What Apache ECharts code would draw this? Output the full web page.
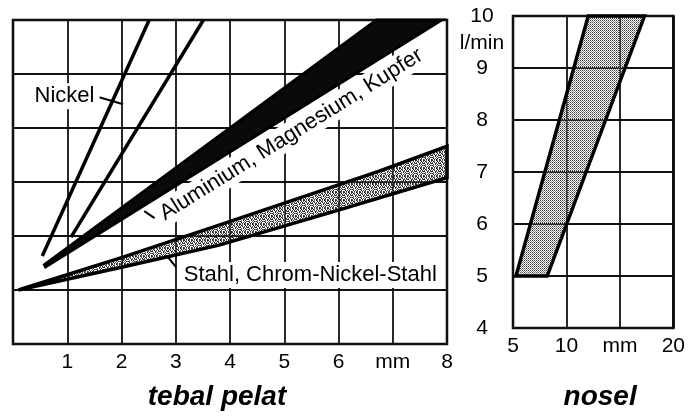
<!DOCTYPE html>
<html>
<head>
<meta charset="utf-8">
<script src="https://cdn.jsdelivr.net/npm/echarts@6/dist/echarts.min.js"></script>
<style>
  html, body { margin: 0; padding: 0; background: #fff; }
  #chart { width: 688px; height: 416px; }
</style>
</head>
<body>
<div id="chart"></div>
<script>
// Shielding gas flow (l/min) against plate thickness and nozzle size (mm)
const flowTicks = [4, 5, 6, 7, 8, 9, 10];
const plateTickLabels = ['', '1', '2', '3', '4', '5', '6', 'mm', '8'];
const nozzleTickLabels = { 5: '5', 10: '10', 15: 'mm', 20: '20' };

// Nickel: two limit lines [thickness mm, flow l/min]
const nickelLow = [[0.54, 5.63], [2.51, 10]];
const nickelHigh = [[1.07, 5.98], [3.51, 10]];
// Aluminium, magnesium, copper: band edges
const aluUpper = [[0.58, 5.47], [6.7, 10]];
const aluLower = [[0.6, 5.43], [7.9, 10]];
// Steel, chrome-nickel steel: band edges
const steelUpper = [[0.1, 5], [2, 5.6], [3.8, 6.2], [6.75, 7.2], [8, 7.66]];
const steelLower = [[0.1, 5], [2, 5.42], [3.8, 5.83], [6, 6.48], [8, 7.08]];
// Nozzle size band edges [nozzle mm, flow l/min]
const nozzleLeft = [[5.28, 5], [12.04, 10]];
const nozzleRight = [[8.2, 5], [17.3, 10]];

const FONT = '"Liberation Sans", Arial, Helvetica, sans-serif';

function makePattern(rows, colors) {
  const c = document.createElement('canvas');
  c.width = rows[0].length;
  c.height = rows.length;
  const ctx = c.getContext('2d');
  rows.forEach((r, y) => {
    for (let x = 0; x < r.length; x++) {
      const col = colors[r[x]];
      if (col) { ctx.fillStyle = col; ctx.fillRect(x, y, 1, 1); }
    }
  });
  return { image: c, repeat: 'repeat' };
}

const nozzleFill = makePattern(['a.', '.b'], { a: '#3c3c3c', b: '#8c8c8c' });
const steelFill = makePattern([
  'a.b.ab.a',
  '.ab..a.b',
  'b.a.b.a.',
  'a..ab.ba',
  '.b.a.a..',
  'ab..b.ab',
  '.a.b.a..',
  'b.a.ab.a'
], { a: '#222', b: '#666' });

// Filled band: upper edge followed by the lower edge walked backwards
function bandSeries(upper, lower, fill, axisIndex, strokeWidth) {
  const ring = upper.concat(lower.slice().reverse());
  return {
    type: 'custom',
    xAxisIndex: axisIndex,
    yAxisIndex: axisIndex,
    data: [0],
    silent: true,
    z: 3,
    renderItem(params, api) {
      return {
        type: 'polygon',
        shape: { points: ring.map(p => api.coord(p)) },
        style: { fill: fill, stroke: '#000', lineWidth: strokeWidth, lineJoin: 'miter' }
      };
    }
  };
}

function lineSeries(points, width) {
  return {
    type: 'line',
    xAxisIndex: 0,
    yAxisIndex: 0,
    data: points,
    symbol: 'none',
    silent: true,
    z: 4,
    lineStyle: { color: '#000', width: width }
  };
}

// Text labels with leader lines, placed in plate-thickness coordinates
function labelSeries(text, at, rotateDeg, leader) {
  return {
    type: 'custom',
    xAxisIndex: 0,
    yAxisIndex: 0,
    data: [0],
    silent: true,
    z: 6,
    renderItem(params, api) {
      const c = api.coord(at);
      const children = [];
      if (leader) {
        const a = api.coord(leader[0]);
        const b = api.coord(leader[1]);
        children.push({
          type: 'line',
          shape: { x1: a[0], y1: a[1], x2: b[0], y2: b[1] },
          style: { stroke: '#000', lineWidth: 2 }
        });
      }
      children.push({
        type: 'text',
        x: c[0],
        y: c[1],
        rotation: rotateDeg * Math.PI / 180,
        style: {
          text: text,
          font: '22px ' + FONT,
          fill: '#000',
          align: 'center',
          verticalAlign: 'middle',
          backgroundColor: '#fff',
          padding: [2, 5]
        }
      });
      return { type: 'group', children: children };
    }
  };
}

const gridLine = { show: true, lineStyle: { color: '#111', width: 1.8 } };
const tickText = { color: '#000', fontSize: 21, fontFamily: FONT };
const titleText = { color: '#000', fontSize: 28, fontWeight: 'bold', fontStyle: 'italic', fontFamily: FONT };

const chart = echarts.init(document.getElementById('chart'), null, { renderer: 'canvas' });
chart.setOption({
  animation: false,
  backgroundColor: '#fff',
  grid: [
    { left: 13, top: 20, width: 434, height: 327, show: true, borderColor: '#000', borderWidth: 2.5, backgroundColor: 'transparent' },
    { left: 513, top: 16, width: 162, height: 327, show: true, borderColor: '#000', borderWidth: 2.5, backgroundColor: 'transparent' }
  ],
  xAxis: [
    {
      type: 'value', gridIndex: 0, min: 0, max: 8, interval: 1,
      axisLine: { show: false }, axisTick: { show: false }, splitLine: gridLine,
      axisLabel: Object.assign({ margin: 8, formatter: v => plateTickLabels[v] }, tickText),
      name: 'tebal pelat', nameLocation: 'middle', nameGap: 39,
      nameTextStyle: Object.assign({ padding: [0, 26, 0, 0] }, titleText)
    },
    {
      type: 'value', gridIndex: 1, min: 5, max: 20, interval: 5,
      axisLine: { show: false }, axisTick: { show: false }, splitLine: gridLine,
      axisLabel: Object.assign({ margin: 8, formatter: v => nozzleTickLabels[v] }, tickText),
      name: 'nosel', nameLocation: 'middle', nameGap: 55,
      nameTextStyle: Object.assign({ padding: [0, 0, 0, 14] }, titleText)
    }
  ],
  yAxis: [
    {
      type: 'value', gridIndex: 0, min: flowTicks[0], max: flowTicks[flowTicks.length - 1], interval: 1,
      axisLine: { show: false }, axisTick: { show: false }, splitLine: gridLine,
      axisLabel: { show: false }
    },
    {
      type: 'value', gridIndex: 1, min: flowTicks[0], max: flowTicks[flowTicks.length - 1], interval: 1,
      axisLine: { show: false }, axisTick: { show: false }, splitLine: gridLine,
      axisLabel: Object.assign({ margin: 31, align: 'center',
        formatter: v => (flowTicks.indexOf(v) >= 0 ? String(v) : '') }, tickText)
    }
  ],
  graphic: [
    {
      type: 'text', x: 482, y: 43,
      style: { text: 'l/min', font: '21px ' + FONT, fill: '#000', align: 'center', verticalAlign: 'middle' }
    }
  ],
  series: [
    bandSeries(steelUpper, steelLower, steelFill, 0, 3.5),
    bandSeries(aluUpper, aluLower, '#0a0a0a', 0, 3),
    bandSeries(nozzleLeft, nozzleRight, nozzleFill, 1, 3.5),
    lineSeries(nickelLow, 3.5),
    lineSeries(nickelHigh, 3.5),
    labelSeries('Nickel', [0.95, 8.59], 0, [[1.59, 8.57], [2.03, 8.44]]),
    labelSeries('Aluminium, Magnesium, Kupfer', [5.13, 7.88], 32, [[2.42, 6.46], [2.61, 6.33]]),
    labelSeries('Stahl, Chrom-Nickel-Stahl', [5.48, 5.28], 0, [[2.83, 5.64], [3.01, 5.42]])
  ]
});
</script>
</body>
</html>
